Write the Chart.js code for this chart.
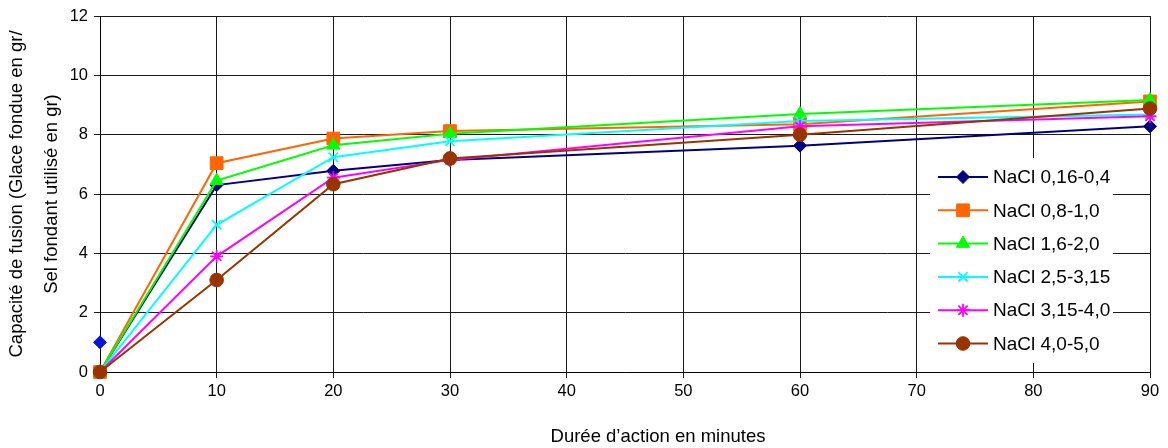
<!DOCTYPE html>
<html>
<head>
<meta charset="utf-8">
<script src="https://cdn.jsdelivr.net/npm/chart.js@4"></script>
<style>
  html, body { margin: 0; padding: 0; background: #fff; }
  #wrap { width: 1168px; height: 448px; }
</style>
</head>
<body>
<div id="wrap"><canvas id="myChart" width="1168" height="448"></canvas></div>
<script>
// durée d'action (minutes)
var minutes = [0, 10, 20, 30, 60, 90];
var seriesNames = ['NaCl 0,16-0,4', 'NaCl 0,8-1,0', 'NaCl 1,6-2,0', 'NaCl 2,5-3,15', 'NaCl 3,15-4,0', 'NaCl 4,0-5,0'];
var nacl016 = [0, 6.3, 6.78, 7.15, 7.63, 8.28];
var nacl08 = [0, 7.04, 7.87, 8.12, 8.35, 9.12];
var nacl16 = [0, 6.45, 7.64, 8.03, 8.7, 9.17];
var nacl25 = [0, 4.96, 7.24, 7.78, 8.46, 8.68];
var nacl315 = [0, 3.9, 6.55, 7.15, 8.28, 8.62];
var nacl40 = [0, 3.1, 6.33, 7.2, 8.0, 8.88];
// point isolé à t=0
var extraX = [0];
var extraY = [1];
var yTicks = [0, 2, 4, 6, 8, 10, 12];
var xTitle = 'Durée d’action en minutes';
var yTitle = ['Capacité de fusion (Glace fondue en gr/', 'Sel fondant utilisé en gr)'];

var colors = ['#000080', '#ff6600', '#00ff00', '#00ffff', '#ff00ff', '#993300'];
var styles = ['rectRot', 'rect', 'triangle', 'crossRot', 'star', 'circle'];
var radii = [6.5, 9, 7.5, 6.5, 6.5, 6.8];
var allValues = [nacl016, nacl08, nacl16, nacl25, nacl315, nacl40];
var FONT = '"Liberation Sans", Arial, sans-serif';

function toPoints(xs, ys) {
    return xs.map(function (x, i) { return { x: x, y: ys[i] }; });
}

function markerWidth(i) {
    return (styles[i] === 'crossRot' || styles[i] === 'star') ? 1.8 : 1;
}

var datasets = allValues.map(function (vals, i) {
    return {
        label: seriesNames[i],
        data: toPoints(minutes, vals),
        borderColor: colors[i],
        backgroundColor: colors[i],
        pointBackgroundColor: colors[i],
        pointBorderColor: colors[i],
        pointStyle: styles[i],
        pointRadius: radii[i],
        pointBorderWidth: markerWidth(i),
        borderWidth: 2,
        tension: 0,
        clip: false,
        order: 6 - i
    };
});
datasets.push({
    label: '',
    data: toPoints(extraX, extraY),
    showLine: false,
    pointStyle: 'rectRot',
    pointRadius: 6.5,
    pointBackgroundColor: '#0a14d8',
    pointBorderColor: '#0a14d8',
    clip: false,
    order: 0
});

// légende dans la zone du graphique + titre de l'axe x
var legendBox = {
    id: 'legendBox',
    afterDraw: function (chart) {
        var ctx = chart.ctx;
        var area = chart.chartArea;
        var left = area.right - 220, top = area.top + 142, w = 183, h = 205;
        ctx.save();
        ctx.fillStyle = '#fff';
        ctx.fillRect(left, top, w, h);
        ctx.font = '19px ' + FONT;
        ctx.textBaseline = 'middle';
        seriesNames.forEach(function (name, i) {
            var y = top + 19 + i * 33.3;
            ctx.strokeStyle = colors[i];
            ctx.lineWidth = 2;
            ctx.beginPath();
            ctx.moveTo(left + 8, y);
            ctx.lineTo(left + 58, y);
            ctx.stroke();
            ctx.fillStyle = colors[i];
            ctx.lineWidth = markerWidth(i);
            Chart.helpers.drawPoint(ctx, { pointStyle: styles[i], radius: radii[i], rotation: 0, borderWidth: ctx.lineWidth }, left + 33, y);
            ctx.fillStyle = '#000';
            ctx.fillText(name, left + 63, y + 1);
        });

        ctx.font = '18.5px ' + FONT;
        ctx.textAlign = 'center';
        ctx.fillStyle = '#000';
        ctx.fillText(xTitle, (area.left + area.right) / 2 + 33, area.bottom + 65);
        ctx.restore();
    }
};

var ctx = document.getElementById('myChart').getContext('2d');
var myChart = new Chart(ctx, {
    type: 'line',
    data: { datasets: datasets },
    options: {
        responsive: false,
        animation: false,
        layout: { padding: { top: 16, right: 18, left: 0, bottom: 0 } },
        plugins: {
            legend: { display: false },
            tooltip: { enabled: false }
        },
        scales: {
            x: {
                type: 'linear',
                min: 0,
                max: 90,
                afterFit: function (scale) { scale.height = 76; },
                ticks: {
                    stepSize: 10,
                    color: '#000',
                    padding: 4,
                    maxRotation: 0,
                    font: { family: FONT, size: 16.5 }
                },
                grid: { color: '#1a1a1a', lineWidth: 1, tickLength: 6 },
                border: { color: '#000', width: 1 },
                title: { display: false }
            },
            y: {
                min: 0,
                max: 12,
                afterFit: function (scale) { scale.width = 100; },
                afterBuildTicks: function (scale) {
                    scale.ticks = yTicks.map(function (v) { return { value: v }; });
                },
                ticks: {
                    color: '#000',
                    padding: 6,
                    font: { family: FONT, size: 16.5 }
                },
                grid: { color: '#1a1a1a', lineWidth: 1, tickLength: 6 },
                border: { color: '#000', width: 1 },
                title: {
                    display: true,
                    text: yTitle,
                    color: '#000',
                    padding: { top: 0, bottom: 0 },
                    font: { family: FONT, size: 18.5, lineHeight: 1.88 }
                }
            }
        }
    },
    plugins: [legendBox]
});
</script>
</body>
</html>
